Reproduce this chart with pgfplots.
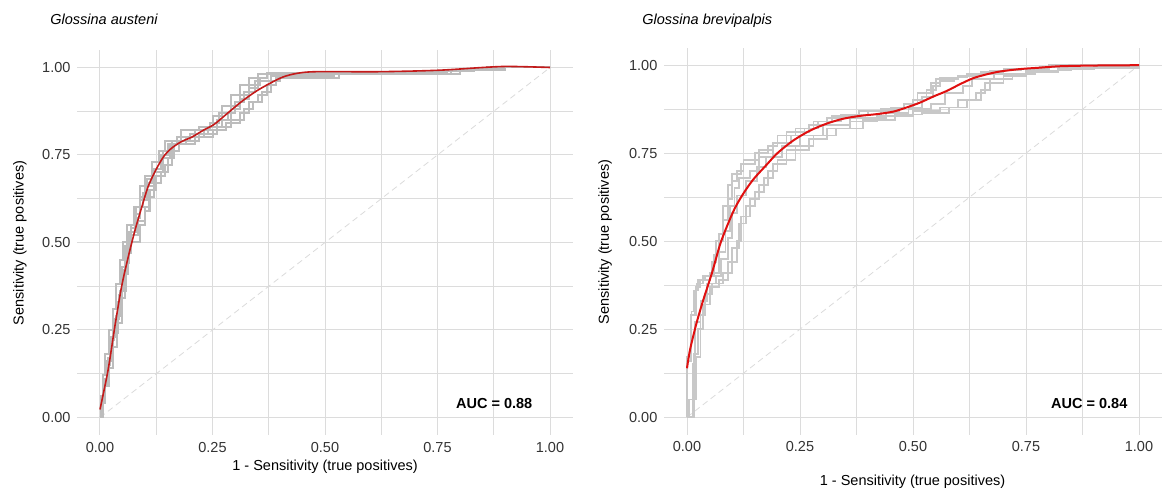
\documentclass[border=0pt]{standalone}
\usepackage{fontspec}
\setmainfont{Liberation Sans}
\usepackage{pgfplots}
\pgfplotsset{compat=1.18}

\definecolor{gridc}{HTML}{DCDCDC}
\definecolor{stepL}{HTML}{BDBDBD}
\definecolor{stepR}{HTML}{C8C8C8}
\definecolor{redL}{HTML}{C41A1A}
\definecolor{redR}{HTML}{E01010}
\definecolor{tickc}{HTML}{333333}

\pgfplotsset{
  rocpanel/.style={
    scale only axis,
    xmin=-0.05, xmax=1.05, ymin=-0.05, ymax=1.05,
    xtick={0,0.25,0.5,0.75,1}, ytick={0,0.25,0.5,0.75,1},
    minor tick num=1,
    xticklabels={0.00,0.25,0.50,0.75,1.00},
    yticklabels={0.00,0.25,0.50,0.75,1.00},
    grid=both,
    major grid style={gridc, line width=0.5pt},
    minor grid style={gridc, line width=0.45pt},
    axis line style={draw=none},
    tick style={draw=none},
    major tick length=0pt, minor tick length=0pt,
    ticklabel style={font=\fontsize{7.25}{8.7}\selectfont, text=tickc},
    /pgf/number format/assume math mode=true,
    clip=false,
  },
  stepsL/.style={const plot mark left, line width=1pt, stepL},
  upR/.style={const plot mark right, line width=0.9pt, stepR},
  dnR/.style={const plot mark left, line width=0.9pt, stepR},
}

\begin{document}
\begin{tikzpicture}
\path[use as bounding box] (0pt,0pt) rectangle (584pt,-245pt);

% ---- left panel: Glossina austeni
\begin{axis}[rocpanel, at={(38.75pt,-217.5pt)}, anchor=south west,
  width=247.5pt, height=192.5pt]
\addplot[densely dashed, gray!28, line width=0.4pt] coordinates {(0,0) (1,1)};
\addplot[stepsL] coordinates {(0,0) (0.003,0.04) (0.008,0.09) (0.015,0.15) (0.022,0.22) (0.03,0.27) (0.04,0.33) (0.048,0.40) (0.055,0.47) (0.06,0.51) (0.07,0.55) (0.08,0.60) (0.095,0.64) (0.105,0.68) (0.12,0.71) (0.14,0.76) (0.16,0.79) (0.2,0.81) (0.24,0.83) (0.27,0.85) (0.29,0.88) (0.31,0.91) (0.33,0.94) (0.35,0.97) (0.37,0.98) (0.50,0.985) (0.75,0.99) (0.8,0.995) (0.88,1) (1,1)};
\addplot[stepsL] coordinates {(0,0) (0.006,0.05) (0.012,0.10) (0.02,0.16) (0.03,0.24) (0.04,0.30) (0.05,0.36) (0.058,0.44) (0.065,0.50) (0.09,0.55) (0.1,0.59) (0.11,0.63) (0.12,0.67) (0.135,0.70) (0.15,0.74) (0.165,0.78) (0.21,0.80) (0.25,0.82) (0.28,0.84) (0.31,0.87) (0.33,0.90) (0.35,0.92) (0.37,0.95) (0.39,0.97) (0.53,0.98) (0.78,0.99) (0.82,0.993) (0.9,1) (1,1)};
\addplot[stepsL] coordinates {(0,0) (0.002,0.06) (0.006,0.12) (0.012,0.18) (0.02,0.25) (0.028,0.31) (0.036,0.38) (0.045,0.45) (0.052,0.5) (0.06,0.55) (0.075,0.6) (0.09,0.66) (0.1,0.69) (0.115,0.73) (0.13,0.76) (0.145,0.79) (0.18,0.82) (0.22,0.83) (0.25,0.86) (0.27,0.89) (0.29,0.92) (0.31,0.95) (0.33,0.97) (0.35,0.98) (0.48,0.985) (0.76,0.99) (0.81,0.995) (0.87,1) (1,1)};
\addplot[stepsL] coordinates {(0,0) (0.004,0.05) (0.01,0.11) (0.018,0.17) (0.025,0.23) (0.035,0.29) (0.045,0.36) (0.052,0.42) (0.058,0.48) (0.065,0.53) (0.08,0.57) (0.09,0.62) (0.105,0.66) (0.12,0.70) (0.14,0.74) (0.155,0.78) (0.19,0.8) (0.23,0.82) (0.26,0.85) (0.285,0.87) (0.3,0.9) (0.32,0.93) (0.345,0.96) (0.38,0.975) (0.52,0.985) (0.77,0.99) (0.82,0.995) (0.9,1) (1,1)};
\addplot[stepsL] coordinates {(0,0) (0.005,0.04) (0.012,0.09) (0.02,0.14) (0.028,0.2) (0.038,0.27) (0.048,0.34) (0.055,0.41) (0.062,0.47) (0.07,0.52) (0.085,0.56) (0.1,0.6) (0.11,0.65) (0.125,0.69) (0.145,0.72) (0.16,0.76) (0.175,0.79) (0.22,0.81) (0.26,0.83) (0.29,0.85) (0.32,0.88) (0.34,0.9) (0.36,0.93) (0.38,0.96) (0.4,0.975) (0.5,0.98) (0.8,0.99) (0.83,0.995) (0.9,1) (1,1)};
\addplot[stepsL] coordinates {(0,0) (0.003,0.05) (0.009,0.1) (0.016,0.16) (0.024,0.22) (0.032,0.28) (0.042,0.35) (0.05,0.43) (0.056,0.49) (0.068,0.54) (0.078,0.58) (0.088,0.63) (0.1,0.67) (0.115,0.71) (0.135,0.75) (0.15,0.78) (0.17,0.8) (0.21,0.82) (0.245,0.84) (0.265,0.87) (0.29,0.89) (0.31,0.92) (0.33,0.95) (0.355,0.97) (0.37,0.985) (0.5,0.988) (0.75,0.99) (0.8,0.995) (0.86,1) (1,1)};
\addplot[smooth, tension=0.5, redL, line width=0.8pt] coordinates {(0,0.023) (0.018,0.136) (0.033,0.26) (0.048,0.374) (0.063,0.46) (0.078,0.536) (0.093,0.602) (0.107,0.66) (0.122,0.702) (0.133,0.728) (0.144,0.75) (0.156,0.766) (0.167,0.777) (0.178,0.786) (0.189,0.793) (0.204,0.801) (0.23,0.821) (0.252,0.836) (0.274,0.859) (0.296,0.883) (0.319,0.907) (0.348,0.933) (0.378,0.955) (0.407,0.973) (0.437,0.983) (0.48,0.988) (0.62,0.988) (0.75,0.992) (0.85,1.0) (0.9,1.003) (0.95,1.002) (1,1)};
\node[font=\fontsize{7.25}{8.7}\selectfont\bfseries] at (axis cs:0.876,0.041) {AUC = 0.88};
\end{axis}

% ---- right panel: Glossina brevipalpis
\begin{axis}[rocpanel, at={(332.2pt,-217.4pt)}, anchor=south west,
  width=248.6pt, height=193.6pt]
\addplot[densely dashed, gray!28, line width=0.4pt] coordinates {(0,0) (1,1)};
\addplot[upR] coordinates {(0,0) (0.01,0.17) (0.015,0.3) (0.025,0.36) (0.04,0.39) (0.06,0.40) (0.07,0.46) (0.08,0.52) (0.09,0.6) (0.1,0.66) (0.12,0.69) (0.15,0.72) (0.18,0.75) (0.2,0.77) (0.24,0.8) (0.28,0.82) (0.32,0.84) (0.38,0.855) (0.45,0.87) (0.5,0.88) (0.53,0.9) (0.55,0.93) (0.6,0.96) (0.65,0.97) (0.7,0.98) (0.78,0.99) (0.85,0.995) (1,1)};
\addplot[dnR] coordinates {(0,0) (0.005,0.05) (0.02,0.17) (0.03,0.29) (0.04,0.35) (0.055,0.38) (0.08,0.41) (0.1,0.48) (0.115,0.55) (0.13,0.6) (0.15,0.64) (0.17,0.68) (0.19,0.72) (0.22,0.76) (0.27,0.79) (0.31,0.82) (0.36,0.84) (0.42,0.855) (0.5,0.87) (0.56,0.88) (0.6,0.9) (0.64,0.92) (0.66,0.95) (0.7,0.97) (0.75,0.98) (0.82,0.99) (0.9,0.995) (1,1)};
\addplot[dnR] coordinates {(0,0) (0.012,0.15) (0.018,0.27) (0.03,0.33) (0.045,0.38) (0.065,0.40) (0.075,0.45) (0.09,0.51) (0.1,0.58) (0.11,0.63) (0.13,0.67) (0.155,0.71) (0.175,0.74) (0.21,0.77) (0.25,0.8) (0.3,0.83) (0.36,0.85) (0.44,0.865) (0.49,0.875) (0.54,0.89) (0.57,0.92) (0.61,0.94) (0.63,0.96) (0.68,0.975) (0.75,0.985) (0.83,0.993) (1,1)};
\addplot[upR] coordinates {(0,0) (0.008,0.16) (0.02,0.29) (0.028,0.37) (0.05,0.39) (0.07,0.41) (0.085,0.47) (0.095,0.53) (0.105,0.6) (0.115,0.65) (0.14,0.68) (0.16,0.7) (0.19,0.74) (0.23,0.78) (0.26,0.8) (0.29,0.82) (0.34,0.84) (0.4,0.86) (0.47,0.87) (0.52,0.88) (0.545,0.91) (0.56,0.94) (0.59,0.955) (0.62,0.965) (0.68,0.975) (0.74,0.985) (0.8,0.99) (1,1)};
\addplot[dnR] coordinates {(0,0) (0.015,0.18) (0.025,0.25) (0.035,0.32) (0.05,0.37) (0.07,0.39) (0.09,0.44) (0.11,0.5) (0.12,0.57) (0.14,0.62) (0.16,0.66) (0.18,0.7) (0.2,0.73) (0.24,0.77) (0.28,0.8) (0.33,0.82) (0.39,0.845) (0.46,0.86) (0.52,0.865) (0.58,0.88) (0.62,0.9) (0.65,0.93) (0.67,0.96) (0.72,0.975) (0.77,0.985) (0.85,0.993) (1,1)};
\addplot[upR] coordinates {(0,0) (0.01,0.16) (0.017,0.29) (0.022,0.36) (0.035,0.38) (0.055,0.4) (0.065,0.44) (0.08,0.5) (0.09,0.56) (0.1,0.62) (0.11,0.67) (0.125,0.7) (0.16,0.73) (0.19,0.76) (0.22,0.78) (0.27,0.81) (0.31,0.83) (0.37,0.85) (0.43,0.86) (0.48,0.875) (0.51,0.89) (0.54,0.92) (0.56,0.95) (0.62,0.965) (0.67,0.975) (0.73,0.985) (0.8,0.99) (1,1)};
\addplot[smooth, tension=0.5, redR, line width=1pt] coordinates {(0,0.139) (0.0066,0.191) (0.021,0.267) (0.036,0.333) (0.055,0.409) (0.073,0.49) (0.088,0.541) (0.106,0.594) (0.125,0.636) (0.147,0.676) (0.176,0.717) (0.2,0.75) (0.235,0.786) (0.272,0.814) (0.309,0.834) (0.346,0.848) (0.383,0.856) (0.42,0.861) (0.456,0.868) (0.486,0.88) (0.516,0.894) (0.545,0.911) (0.575,0.927) (0.604,0.946) (0.633,0.963) (0.663,0.974) (0.692,0.982) (0.737,0.989) (0.781,0.993) (0.825,0.997) (0.9,0.999) (1,1)};
\node[font=\fontsize{7.25}{8.7}\selectfont\bfseries] at (axis cs:0.89,0.04) {AUC = 0.84};
\end{axis}

% titles and axis titles
\begin{scope}[every node/.style={font=\fontsize{7.25}{8.7}\selectfont, inner sep=0pt}]
\node[anchor=base west] at (25pt,-12.5pt) {\itshape Glossina austeni};
\node[anchor=base west] at (321pt,-12.5pt) {\itshape Glossina brevipalpis};
\node[rotate=90] at (10pt,-121.5pt) {Sensitivity (true positives)};
\node[rotate=90] at (302.5pt,-121pt) {Sensitivity (true positives)};
\node at (162.5pt,-233.5pt) {1 - Sensitivity (true positives)};
\node at (456.25pt,-241pt) {1 - Sensitivity (true positives)};
\end{scope}
\end{tikzpicture}
\end{document}
